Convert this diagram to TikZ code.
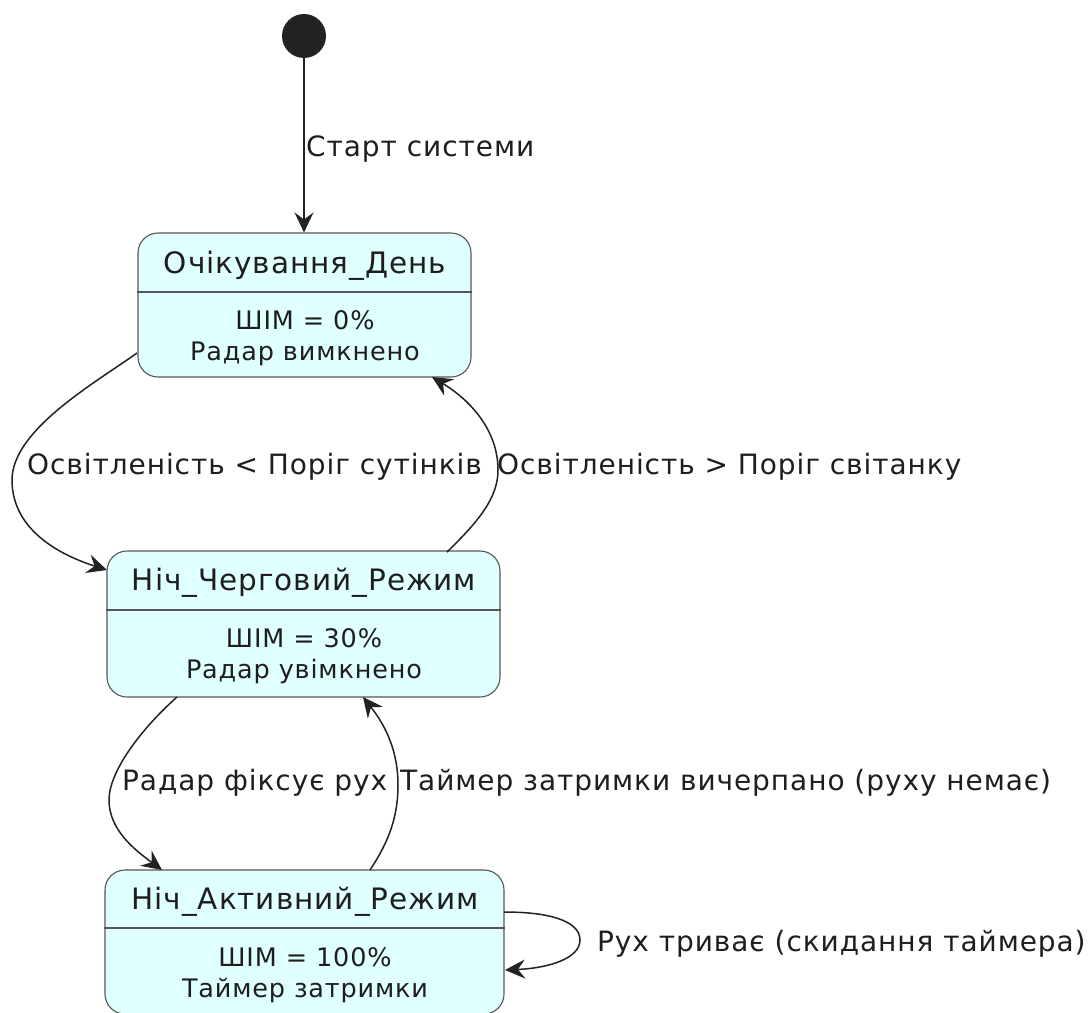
\documentclass[tikz,border=0pt]{standalone}
\usepackage{fontspec}
\setmainfont{DejaVu Sans}
\newfontfamily\spacedfont[LetterSpace=3.3]{DejaVu Sans}
\usetikzlibrary{arrows.meta}
\definecolor{statefill}{HTML}{E0FFFF}
\definecolor{stateline}{HTML}{555555}
\definecolor{ink}{HTML}{1E1E1E}
\definecolor{edge}{HTML}{222222}
\tikzset{
  state/.style={draw=stateline, fill=statefill, line width=1.1pt, rounded corners=20pt, inner sep=0pt},
  sep/.style={draw=stateline, line width=1.1pt},
  title/.style={font=\spacedfont\fontsize{29.5}{34}\selectfont, text=ink, anchor=base, inner sep=0pt},
  body/.style={font=\spacedfont\fontsize{25.5}{30}\selectfont, text=ink, anchor=base, inner sep=0pt},
  lbl/.style={font=\spacedfont\fontsize{28}{32}\selectfont, text=ink, anchor=base west, inner sep=0pt},
  trans/.style={draw=edge, line width=1.5pt, -{Stealth[length=20pt,width=19pt,inset=7pt]}}
}
\begin{document}
\begin{tikzpicture}[x=1pt,y=-1pt]
\useasboundingbox (0,0) rectangle (1092,1012);

% initial pseudo-state
\node[circle, fill=edge, minimum size=44pt, inner sep=0pt] (init) at (304,36) {};

% state boxes
\node[state, minimum width=333pt, minimum height=144pt] (s1) at (304.5,305) {};
\node[state, minimum width=393pt, minimum height=146pt] (s2) at (303.5,624) {};
\node[state, minimum width=399pt, minimum height=144pt] (s3) at (304.5,942) {};

% compartment separators
\coordinate (s1sep) at (0,292);
\coordinate (s2sep) at (0,610);
\coordinate (s3sep) at (0,928);
\draw[sep] (s1.west |- s1sep) -- (s1.east |- s1sep);
\draw[sep] (s2.west |- s2sep) -- (s2.east |- s2sep);
\draw[sep] (s3.west |- s3sep) -- (s3.east |- s3sep);

% state names and activities
\node[title] (s1t) at (305,273) {Очікування\_День};
\node[body] (s1a) at (305,329) {ШІМ = 0\%};
\node[body] (s1b) at (305,360) {Радар вимкнено};

\node[title] (s2t) at (304,590) {Ніч\_Черговий\_Режим};
\node[body] (s2a) at (304,647) {ШІМ = 30\%};
\node[body] (s2b) at (304,678) {Радар увімкнено};

\node[title] (s3t) at (305,909) {Ніч\_Активний\_Режим};
\node[body] (s3a) at (305,966) {ШІМ = 100\%};
\node[body] (s3b) at (305,997) {Таймер затримки};

% anchor points on the boxes
\coordinate (a1) at (137,353);
\coordinate (a2) at (107,570);
\coordinate (b1) at (447,552);
\coordinate (b2) at (432,377);
\coordinate (c1) at (177,697);
\coordinate (c2) at (162,870);
\coordinate (d1) at (370,870);
\coordinate (d2) at (363,697);
\coordinate (e1) at (504,912);
\coordinate (e2) at (505,970);

% transitions
\draw[trans] (init) -- (init |- s1.north);
\draw[trans] (a1) .. controls (95,383) and (12,430) .. (12,480)
                  .. controls (12,530) and (60,555) .. (a2);
\draw[trans] (b1) .. controls (480,520) and (498,497) .. (498,470)
                  .. controls (498,430) and (470,400) .. (b2);
\draw[trans] (c1) .. controls (140,730) and (109,772) .. (109,800)
                  .. controls (109,830) and (135,850) .. (c2);
\draw[trans] (d1) .. controls (390,840) and (398,815) .. (398,785)
                  .. controls (398,750) and (385,725) .. (d2);
\draw[trans] (e1) .. controls (560,912) and (580,925) .. (580,940)
                  .. controls (580,958) and (550,968) .. (e2);

% transition labels
\node[lbl] (l0) at (306,156) {Старт системи};
\node[lbl] (l1) at (27,474) {Освітленість < Поріг сутінків};
\node[lbl] (l2) at (497,474) {Освітленість > Поріг світанку};
\node[lbl] (l3) at (122,790) {Радар фіксує рух};
\node[lbl] (l4) at (400,790) {Таймер затримки вичерпано (руху немає)};
\node[lbl] (l5) at (597,951) {Рух триває (скидання таймера)};
\end{tikzpicture}
\end{document}
